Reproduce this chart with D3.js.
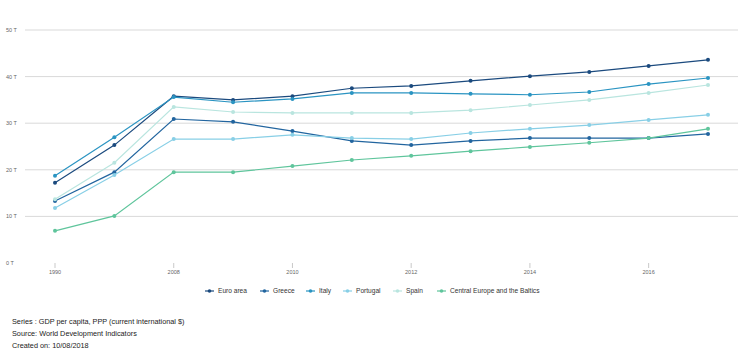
<!DOCTYPE html>
<html><head><meta charset="utf-8">
<script src="https://cdn.jsdelivr.net/npm/d3@7/dist/d3.min.js"></script>
<style>body{margin:0;background:#fff;font-family:"Liberation Sans",Arial,sans-serif}</style>
</head><body><svg id="c" width="744" height="357"></svg>
<script>
const years = ["1990","2000","2008","2009","2010","2011","2012","2013","2014","2015","2016","2017"];
const shownYears = ["1990","2008","2010","2012","2014","2016"];
const yTicks = [0,10,20,30,40,50];
const seriesNames = ["Euro area","Greece","Italy","Portugal","Spain","Central Europe and the Baltics"];
const euroArea = [17.2,25.3,35.8,35.0,35.8,37.5,38.0,39.1,40.1,41.0,42.3,43.6];
const greece   = [13.3,19.5,30.9,30.3,28.3,26.2,25.3,26.2,26.8,26.8,26.8,27.7];
const italy    = [18.7,27.0,35.6,34.5,35.2,36.5,36.5,36.3,36.1,36.7,38.4,39.7];
const portugal = [11.8,18.9,26.6,26.6,27.5,26.8,26.6,27.9,28.8,29.6,30.7,31.8];
const spain    = [13.7,21.5,33.5,32.4,32.2,32.2,32.2,32.8,33.9,35.0,36.5,38.2];
const ceb      = [6.9,10.1,19.5,19.5,20.8,22.1,23.0,24.0,24.9,25.8,26.8,28.8];
const colors = ["#1b4a7e","#22659f","#2a94c2","#88cfe6","#b9e5df","#5fc59c"];
const footer = ["Series : GDP per capita, PPP (current international $)","Source: World Development Indicators","Created on: 10/08/2018"];

const all = [euroArea,greece,italy,portugal,spain,ceb];
const svg = d3.select("#c");
const x = d3.scalePoint().domain(years).range([55,708]);
const y = d3.scaleLinear().domain([0,50]).range([263,30]);

// grid
svg.append("g").selectAll("line").data(yTicks.filter(d=>d>0)).join("line")
  .attr("x1",25).attr("x2",738).attr("y1",d=>y(d)).attr("y2",d=>y(d))
  .attr("stroke","#d9d9d9").attr("stroke-width",1);
svg.append("g").selectAll("text").data(yTicks).join("text")
  .attr("x",6).attr("y",d=>y(d)+2).text(d=>d+" T")
  .attr("font-size",5.5).attr("fill","#666");

// x axis
const xa = svg.append("g");
xa.selectAll("line").data(shownYears).join("line")
  .attr("x1",d=>x(d)).attr("x2",d=>x(d)).attr("y1",263).attr("y2",268)
  .attr("stroke","#bbb").attr("stroke-width",0.8);
xa.selectAll("text").data(shownYears).join("text")
  .attr("x",d=>x(d)).attr("y",274).attr("text-anchor","middle").text(d=>d)
  .attr("font-size",5.5).attr("fill","#666");

const line = d3.line().x((d,i)=>x(years[i])).y(d=>y(d));
all.forEach((s,k)=>{
  const g = svg.append("g");
  g.append("path").attr("d",line(s)).attr("fill","none").attr("stroke",colors[k]).attr("stroke-width",1.2);
  g.selectAll("circle").data(s).join("circle")
    .attr("cx",(d,i)=>x(years[i])).attr("cy",d=>y(d)).attr("r",2).attr("fill",colors[k]);
});

// legend
const legX = [205,260,306,343,393,437];
const lg = svg.append("g");
seriesNames.forEach((n,k)=>{
  const gx = legX[k];
  lg.append("line").attr("x1",gx).attr("x2",gx+9).attr("y1",291).attr("y2",291).attr("stroke",colors[k]).attr("stroke-width",1.2);
  lg.append("circle").attr("cx",gx+4.5).attr("cy",291).attr("r",1.8).attr("fill",colors[k]);
  lg.append("text").attr("x",gx+13).attr("y",293.3).text(n).attr("font-size",6.6).attr("fill","#333");
});

// footer
svg.append("g").selectAll("text").data(footer).join("text")
  .attr("x",12).attr("y",(d,i)=>324+i*11.8).text(d=>d).attr("font-size",7.3).attr("fill","#222");
</script></body></html>
